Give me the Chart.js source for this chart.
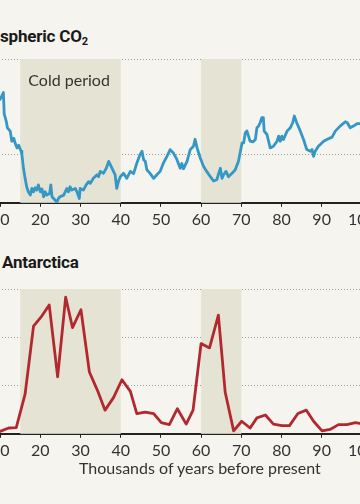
<!DOCTYPE html>
<html>
<head>
<meta charset="utf-8">
<script src="https://cdn.jsdelivr.net/npm/chart.js@4/dist/chart.umd.min.js"></script>
<style>
  html, body { margin: 0; padding: 0; background: #f5f4ee; width: 360px; height: 504px; overflow: hidden; position: relative; font-family: "Lato", "Open Sans", sans-serif; }
  .wrap { position: absolute; left: -40px; width: 442px; }
  #w1 { top: 0; height: 240px; }
  #w2 { top: 240px; height: 264px; }
  .title { position: absolute; font-weight: 700; font-size: 17px; color: #1a1a1a; white-space: nowrap; font-family: "Roboto", "Lato", sans-serif; letter-spacing: -0.2px; }
  .title sub { font-size: 11px; vertical-align: -3px; line-height: 0; }
  #t1 { left: 0px; top: 26px; }
  #t2 { left: 2px; top: 252px; }
  #xt { position: absolute; left: 79px; top: 458px; font-size: 16px; color: #333; white-space: nowrap; }
</style>
</head>
<body>
<div class="title" id="t1">spheric CO<sub>2</sub></div>
<div class="title" id="t2">Antarctica</div>
<div class="wrap" id="w1"><canvas id="c1"></canvas></div>
<div class="wrap" id="w2"><canvas id="c2"></canvas></div>
<div id="xt">Thousands of years before present</div>
<script>
// ---- data ----
const xTicks = [10, 20, 30, 40, 50, 60, 70, 80, 90, 100];
const bands = [[15, 40], [60, 70]];
const bandLabel = "Cold period";

const co2Years = [9.5,10.0,10.8,11.0,11.5,11.8,12.5,12.9,13.4,13.7,14.2,14.6,15.2,15.4,15.8,16.2,16.6,17.0,17.5,17.9,18.3,18.7,19.1,19.5,20.0,20.4,20.8,21.2,21.6,22.3,22.6,22.9,23.3,23.7,24.1,24.5,24.9,25.8,26.6,27.0,27.4,27.8,28.7,29.1,29.7,29.9,30.7,31.4,32.0,32.4,33.2,34.1,34.5,34.9,35.7,36.4,37.0,37.6,38.2,38.6,39.0,39.4,39.9,40.7,41.5,42.4,43.2,44.0,44.8,45.3,45.7,46.1,46.5,47.3,48.2,49.0,49.8,50.6,51.5,52.3,53.1,54.0,54.8,55.2,55.6,56.5,57.3,58.1,58.5,59.0,59.8,60.6,61.4,62.3,63.1,63.9,64.3,64.8,65.2,65.6,66.2,66.8,67.7,68.5,69.3,69.7,70.2,70.6,71.0,71.4,71.8,72.2,72.9,73.5,73.9,74.3,74.7,75.1,75.5,75.7,76.4,76.8,77.2,78.0,78.9,79.3,79.7,80.1,80.5,81.4,82.2,82.8,83.2,83.8,84.7,85.5,86.3,87.2,87.6,88.0,88.4,89.2,90.5,91.3,92.6,93.4,94.6,95.9,96.4,97.1,97.9,98.8,99.6,100.8];
const co2Values = [222.5,223.2,226.0,217.1,214.1,211.3,209.9,205.7,206.9,205.0,202.9,204.0,201.5,200.2,194.4,190.2,186.7,184.6,183.2,186.0,184.6,186.3,185.3,187.5,184.6,185.8,182.5,184.6,183.2,183.9,187.5,182.5,181.8,181.1,180.1,181.8,182.5,183.2,186.0,184.6,186.7,185.3,186.0,184.6,181.8,186.0,185.3,187.5,188.8,188.1,190.2,191.7,190.9,193.1,192.3,194.4,197.3,195.2,193.1,191.7,186.0,188.8,190.9,192.3,190.2,193.1,192.2,196.5,200.1,201.5,198.0,197.3,193.8,192.3,190.2,191.7,193.1,196.5,199.4,202.2,200.8,198.0,194.4,196.4,194.2,197.3,202.2,203.6,206.5,202.9,198.7,195.2,193.1,190.9,189.1,189.6,191.8,194.4,190.2,191.7,193.1,190.9,192.3,193.8,197.3,200.8,205.0,205.0,209.2,210.0,207.8,205.7,205.4,206.4,211.3,212.0,213.4,215.5,215.5,209.9,208.5,205.7,202.9,203.6,205.7,207.8,205.7,207.8,206.4,209.9,211.3,213.4,216.2,213.4,209.9,206.4,202.2,201.5,202.2,199.4,201.5,203.6,205.7,206.4,207.4,209.9,212.0,213.8,213.4,211.3,212.0,213.0,213.0,213.3];
const co2Min = 180, co2Max = 240;
const co2Grid = [200, 240];

const dustYears = [8.0,10.0,12.1,14.0,16.2,18.3,20.1,22.2,24.3,26.3,28.0,30.1,32.2,34.2,36.1,38.2,40.3,42.4,44.0,46.1,48.2,50.1,52.1,54.1,56.3,58.0,60.0,62.1,64.3,66.0,68.1,70.1,72.2,73.9,76.0,78.0,80.1,82.0,84.1,86.2,88.0,90.1,92.1,94.2,96.3,98.4,100.6];
const dustValues = [0.03,0.05,0.12,0.13,0.82,2.23,2.41,2.67,1.18,2.83,2.20,2.57,1.28,0.90,0.49,0.75,1.12,0.88,0.42,0.45,0.42,0.23,0.19,0.52,0.20,0.49,1.87,1.78,2.46,0.86,0.06,0.26,0.12,0.33,0.39,0.20,0.17,0.17,0.42,0.49,0.26,0.06,0.09,0.19,0.19,0.23,0.20];
const dustMin = 0, dustMax = 3;
const dustGrid = [1, 2, 3];

// ---- styling ----
const SHADE = '#e5e4d4', GRID = '#9c9a92', AXIS = '#222222', TICK = '#333333';

const bandPlugin = {
  id: 'bands',
  beforeDatasetsDraw(chart, args, opts) {
    const {ctx, chartArea, scales} = chart;
    ctx.save();
    ctx.fillStyle = SHADE;
    bands.forEach(([a, b]) => {
      const x0 = scales.x.getPixelForValue(a), x1 = scales.x.getPixelForValue(b);
      ctx.fillRect(x0, chartArea.top, x1 - x0, chartArea.bottom - chartArea.top);
    });
    if (opts.label) {
      ctx.fillStyle = '#333';
      ctx.font = '16px Lato, "Open Sans", sans-serif';
      ctx.textBaseline = 'middle';
      ctx.fillText(opts.label, scales.x.getPixelForValue(17.0), chartArea.top + 22);
    }
    ctx.restore();
  }
};

function makeChart(id, years, values, color, yMin, yMax, grid, padTop, padBottom, label) {
  return new Chart(document.getElementById(id), {
    type: 'line',
    data: { datasets: [{ data: years.map((x, i) => ({x, y: values[i]})), borderColor: color, borderWidth: 2.8, pointRadius: 0, tension: 0, borderJoinStyle: 'round', fill: false }] },
    options: {
      responsive: true, maintainAspectRatio: false, animation: false,
      layout: { padding: { top: padTop, bottom: padBottom, left: 0, right: 0 } },
      plugins: { legend: { display: false }, tooltip: { enabled: false }, bands: { label } },
      scales: {
        x: {
          type: 'linear', min: 0, max: 110,
          afterBuildTicks: ax => { ax.ticks = xTicks.map(v => ({value: v})); },
          grid: { drawOnChartArea: false, drawTicks: true, tickLength: 4, color: AXIS, lineWidth: 1 },
          border: { display: true, color: AXIS, width: 2 },
          ticks: { color: TICK, font: { size: 16, family: 'Lato, "Open Sans", sans-serif' }, padding: 3, maxRotation: 0, autoSkip: false }
        },
        y: {
          type: 'linear', min: yMin, max: yMax,
          afterBuildTicks: ax => { ax.ticks = grid.map(v => ({value: v})); },
          grid: { drawTicks: false, color: GRID, lineWidth: 1 },
          border: { display: false, dash: [1, 2] },
          ticks: { display: false }
        }
      }
    },
    plugins: [bandPlugin]
  });
}

const c1 = makeChart('c1', co2Years, co2Values, '#3497c4', co2Min, co2Max, co2Grid, 59, 8, bandLabel);
const c2 = makeChart('c2', dustYears, dustValues, '#b3282e', dustMin, dustMax, dustGrid, 49, 41, null);
</script>
</body>
</html>
